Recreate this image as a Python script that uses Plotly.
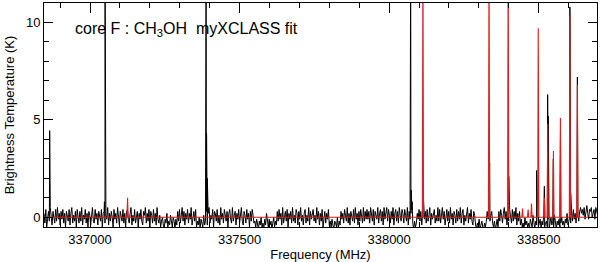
import plotly.graph_objects as go

# ---------------- data ----------------
# observed spectrum baseline: channel start / step (MHz) and brightness (units of 0.1 K)
NOISE_START_MHZ = 336846
NOISE_STEP_MHZ = 3
NOISE_UNIT_K = 0.1
NOISE = [
    2, -3, 4, -5, -1, 3, -2, 5, 1, -4, 3, 0, -3, 4, -2, 5, -1, 2, -4, 3,
    -1, 4, -3, 2, -5, 3, 1, -2, 4, -4, 2, 5, -3, 1, -2, 3, -5, 4, 0, -3,
    3, -2, 5, -4, 1, -1, 4, -3, 2, -5, 3, 1, -4, 2, 5, -2, -3, 4, -1, 2,
    -4, 3, 1, -2, 4, -5, 2, 3, -3, 1, -1, 5, -4, 2, -2, 3, 0, -5, 4, -1,
    2, -3, 5, -1, -4, 3, 1, -2, 4, -3, 2, -5, 3, 4, -1, -3, 2, 5, -4, 1,
    -2, 4, -3, 1, 3, -5, 2, -1, 4, -2, -4, 3, 1, 5, -3, 2, -2, 4, -5, 3,
    1, -3, 4, -2, 2, -4, 5, -1, -3, 1, -5, -2, 0, -4, -6, -1, -3, 2, -5, -2,
    -4, 1, -3, -5, 0, -2, -6, -1, -4, 3, -2, 4, -3, 1, 5, -2, 3, -4, 2, -1,
    4, -3, 2, -1, 5, -4, 1, 3, -2, 4, -5, -2, -4, 0, -6, -1, -3, -5, 1, -4,
    -2, 3, -4, 2, 5, -3, 1, -1, 4, -5, 3, 2, -2, 4, -3, 1, -4, 5, -1, 2,
    -3, 4, 1, -2, 3, -5, 2, 4, -1, -3, 5, -2, 1, 3, -4, 2, -1, 4, -3, 1,
    5, -2, -4, 3, 1, -3, 4, -1, 2, -5, 3, -2, 4, 1, -3, -2, -5, -1, -4, -6,
    -2, -4, 0, -5, -3, -6, -1, -4, 2, -3, -5, -1, -4, -2, -6, -3, 0, -5, -2, -4,
    3, -2, 4, -1, 2, -4, 5, -3, 1, 3, -2, 4, -5, 2, -1, 3, -3, 5, -2, 1,
    -3, 4, 2, -4, 3, -1, 5, -2, 1, -4, 2, 4, -3, 1, -2, 5, -4, 3, -1, 2,
    4, -2, 1, -3, 5, -1, 3, -4, 2, -2, 4, -5, 1, 3, -3, 2, -1, 4, -4, -2,
    -5, -1, -4, -6, -2, -3, -5, 0, -6, -2, -4, 3, -1, 2, -3, 4, 1, -2, 5, -3,
    2, -4, 3, 1, -2, 4, -3, 5, -1, 2, -4, 3, -2, 4, 1, -3, 5, -2, 3, -1,
    4, -1, 3, -3, 5, 2, -2, 4, -4, 3, 1, -1, 5, -3, 2, 4, -2, 3, -4, 5,
    -1, 3, 5, -2, 4, 1, -3, 3, -1, 5, -4, 2, 4, -2, 3, -3, 5, 1, -2, 4,
    2, -3, 4, 1, -2, 5, -4, 3, -1, 2, 4, -3, -6, -2, -5, -3, 2, -1, 4, -2,
    3, -4, 2, 5, -1, 3, -3, 4, -2, 1, 5, -4, 2, -1, 3, 4, -3, 1, -2, 5,
    -2, 4, -3, 2, 5, -1, 3, -4, 1, 4, -2, 3, -3, 5, -1, 2, -4, 3, 1, -3,
    4, -2, 3, -1, 5, -3, 2, 4, -4, 1, -2, 3, 5, -3, 2, -1, 4, -2, -4, 3,
    1, -4, -6, -3, -5, -1, -6, -4, -2, -5, -6, -3, -5, -2, 3, -1, 4, -2, 1, 3,
    -3, -5, -2, -6, -4, -1, -5, 3, -2, 4, 1, -3, 2, 5, -1, 3, -4, 2, -2, 4,
    1, -3, 4, -2, 3, -1, 5, -4, 2, -2, 3, -4, -1, -5, -3, -6, 0, -4, -2, -5,
    -3, -6, -1, -4, -5, 1, -3, -6, -2, -4, 0, -5, -3, -1, -6, -2, -4, 1, -5, -3,
    -2, -5, -1, -6, -3, 0, -4, -2, -5, 1, -3, -6, -2, -4, -1, -5, -3, 0, -4, -2,
    -5, -1, -3, 2, -4, -2, 1, -3, 3, -2, 4, -1, 2, -3, 4, 1, -2, 3, 5, 2,
    4, 1, 5, -1, 3, 6, 2, -1, 4, 3, 5, 0, 2, 4, -1, 5, 3, 1, 4, 2,
]

# observed line peaks (MHz, K); values above 11 K run off the top of the frame
BLACK_LINE_FREQ = [336865, 337048, 337050, 337052, 337386, 337388, 337389.5, 337392,
                   338070, 338072, 338074, 338077, 338114, 338336, 338400, 338493,
                   338519, 338530, 338532, 338549, 338573, 338604.4, 338607, 338629.4]
BLACK_LINE_TK = [4.45, 0.8, 14, 1.5, 1.2, 14, 4.3, 2.0,
                 0.9, 14, 1.4, 0.8, 1.3, 2.8, 2.1, 2.4,
                 1.6, 6.3, 5.2, 3.0, 4.5, 10.8, 1.2, 7.2]

# myXCLASS CH3OH model line peaks (MHz, K)
RED_LINE_FREQ = [337125.4, 338113, 338334, 338398, 338446, 338464.7, 338476, 338498.6,
                 338519.7, 338530.3, 338549.4, 338572.7, 338604.4, 338629.4]
RED_LINE_TK = [1.0, 14, 14, 14, 0.45, 0.4, 0.7, 9.7,
               1.0, 4.8, 3.4, 5.1, 10.4, 6.8]

X_RANGE = [336846, 338695]
Y_RANGE = [-0.5, 11]
X_TICKS = [337000, 337500, 338000, 338500]
Y_TICKS = [0, 5, 10]

# ---------------- build traces ----------------
noise_f = [NOISE_START_MHZ + NOISE_STEP_MHZ * i for i in range(len(NOISE))]
noise_t = [v * NOISE_UNIT_K for v in NOISE]
pts = sorted(list(zip(noise_f, noise_t)) + list(zip(BLACK_LINE_FREQ, BLACK_LINE_TK)))
obs_x = [p[0] for p in pts]
obs_y = [p[1] for p in pts]

mod_x = [X_RANGE[0]]
mod_y = [0.0]
for f, t in zip(RED_LINE_FREQ, RED_LINE_TK):
    mod_x += [f - 2, f, f + 2]
    mod_y += [0.0, t, 0.0]
mod_x.append(X_RANGE[1])
mod_y.append(0.0)

FONT = "Liberation Sans, Arial, sans-serif"

fig = go.Figure()
fig.add_trace(go.Scatter(x=obs_x, y=obs_y, mode="lines",
                         line=dict(color="black", width=1), showlegend=False))
fig.add_trace(go.Scatter(x=mod_x, y=mod_y, mode="lines",
                         line=dict(color="#dc1e1e", width=1.1), showlegend=False))

fig.add_annotation(xref="paper", yref="paper", x=0.052, y=0.88,
                   xanchor="left", yanchor="middle", showarrow=False,
                   text="core F : CH<sub>3</sub>OH  myXCLASS fit",
                   font=dict(family=FONT, size=16, color="black"))

fig.update_layout(
    width=600, height=262,
    margin=dict(l=44, r=3, t=3, b=35),
    paper_bgcolor="white", plot_bgcolor="white",
    font=dict(family=FONT, size=13, color="black"),
    xaxis=dict(range=X_RANGE, tickvals=X_TICKS, ticktext=[str(v) for v in X_TICKS],
               ticks="inside", ticklen=10, tickcolor="black", tickwidth=1,
               showline=True, linecolor="black", linewidth=1, mirror="allticks",
               showgrid=False, zeroline=False,
               minor=dict(dtick=100, tick0=337000, ticks="inside", ticklen=5,
                          tickcolor="black", showgrid=False),
               title=dict(text="Frequency (MHz)", standoff=2,
                          font=dict(family=FONT, size=13)),
               automargin=False),
    yaxis=dict(range=Y_RANGE, tickvals=Y_TICKS, ticktext=[str(v) for v in Y_TICKS],
               ticks="inside", ticklen=9, tickcolor="black", tickwidth=1,
               showline=True, linecolor="black", linewidth=1, mirror="allticks",
               showgrid=False, zeroline=False,
               minor=dict(dtick=1, tick0=0, ticks="inside", ticklen=5,
                          tickcolor="black", showgrid=False),
               title=dict(text="Brightness Temperature (K)", standoff=8,
                          font=dict(family=FONT, size=13)),
               automargin=False),
)

fig.write_html("out.html", config={"displayModeBar": False},
               post_script="document.body.style.margin='0';document.body.style.overflow='hidden';")
